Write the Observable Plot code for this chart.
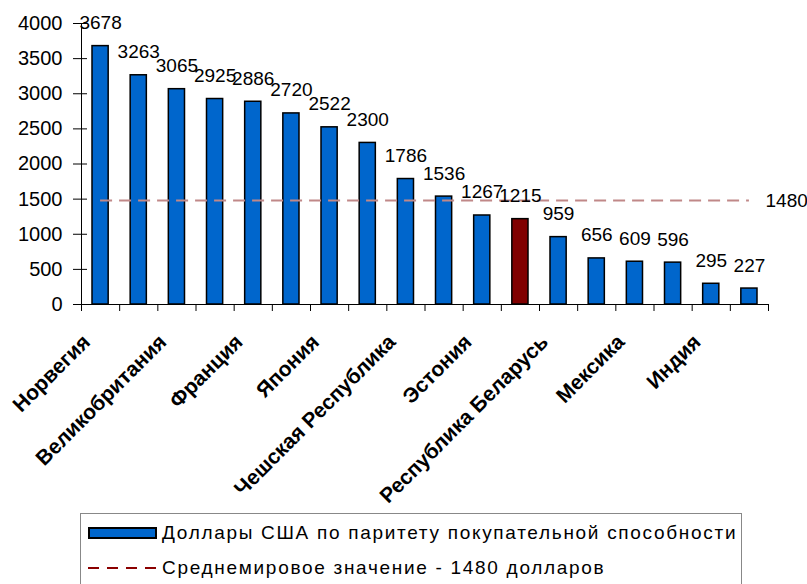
<!DOCTYPE html>
<html>
<head>
<meta charset="utf-8">
<script src="https://cdn.jsdelivr.net/npm/d3@7"></script>
<script src="https://cdn.jsdelivr.net/npm/@observablehq/plot@0.6"></script>
<style>
  body { margin: 0; background: #fff; font-family: "Liberation Sans", Arial, sans-serif; }
  #wrap { position: relative; width: 807px; height: 584px; overflow: hidden; }
  #legend { position: absolute; left: 80px; top: 513px; width: 662px; height: 90px; border: 1px solid #888; box-sizing: border-box; background: #fff; }
  .row { position: absolute; left: 7px; display: flex; align-items: center; font-size: 19px; letter-spacing: 1.7px; color: #000; white-space: nowrap; }
  .sw { width: 69px; height: 12px; box-sizing: border-box; border: 2px solid #000; background: #0066cc; margin-right: 5px; }
  .row svg { margin-right: 5px; display: block; }
</style>
</head>
<body>
<div id="wrap">
  <div id="chart"></div>
  <div id="legend">
    <div class="row" style="top:8px"><div class="sw"></div><span id="l1"></span></div>
    <div class="row" style="top:43px"><svg width="69" height="4"><line x1="0" x2="69" y1="2" y2="2" stroke="#8b0000" stroke-width="2" stroke-dasharray="11,8"/></svg><span id="l2"></span></div>
  </div>
</div>
<script>
const values = [3678, 3263, 3065, 2925, 2886, 2720, 2522, 2300, 1786, 1536, 1267, 1215, 959, 656, 609, 596, 295, 227];
const tickLabels = ["Норвегия", "", "Великобритания", "", "Франция", "", "Япония", "", "Чешская Республика", "", "Эстония", "", "Республика Беларусь", "", "Мексика", "", "Индия", ""];
const highlighted = [11];
const average = 1480;
const yTicks = [0, 500, 1000, 1500, 2000, 2500, 3000, 3500, 4000];
const seriesName = "Доллары США по паритету покупательной способности";
const averageName = "Среднемировое значение - 1480 долларов";

const data = values.map((v, i) => ({i, value: v, hi: highlighted.includes(i)}));
const labels = tickLabels.map((t, i) => ({i, t})).filter(d => d.t);
const n = values.length;

const font = "'Liberation Sans', Arial, sans-serif";
const chart = Plot.plot({
  width: 807,
  height: 513,
  marginLeft: 81,
  marginRight: 39,
  marginTop: 23,
  marginBottom: 209,
  style: {fontFamily: font, color: "#000", background: "#fff"},
  x: {domain: [0, n], axis: null},
  y: {domain: [0, 4000], axis: null},
  marks: [
    Plot.axisY({ticks: yTicks, tickSize: 8, tickPadding: 11, fontSize: 20, tickFormat: d => String(d), stroke: "#000", label: null}),
    Plot.axisY({ticks: yTicks, tickSize: -6, tickFormat: () => "", stroke: "#000", label: null}),
    Plot.axisX({ticks: d3.range(0, n + 1), tickSize: 7, tickFormat: () => "", stroke: "#000", label: null}),
    Plot.ruleX([0], {y1: 0, y2: 4000, stroke: "#000"}),
    Plot.ruleY([0], {x1: 0, x2: n, stroke: "#000"}),
    Plot.rectY(data, {x1: d => d.i, x2: d => d.i + 1, y: "value", insetLeft: 11, insetRight: 11,
      fill: d => d.hi ? "#800000" : "#0066cc", stroke: "#000", strokeWidth: 1.5}),
    Plot.ruleY([average], {x1: 0.5, x2: n - 0.5, stroke: "#c08888", strokeWidth: 2, strokeDasharray: "12,7"}),
    Plot.text([average], {x: n, y: d => d, text: d => String(d), textAnchor: "start", dx: -3, fontSize: 19, fill: "#000"}),
    Plot.text(data, {x: d => d.i + 0.5, y: "value", text: d => String(d.value), textAnchor: "middle", lineAnchor: "bottom", dy: -17, fontSize: 19, fill: "#000"}),
    Plot.text(labels, {x: d => d.i + 0.5, y: 0, text: "t", rotate: -45, textAnchor: "end", dx: -14, dy: 34, fontSize: 21, fontWeight: "bold", fill: "#000"})
  ]
});
document.getElementById("chart").appendChild(chart);
document.getElementById("l1").textContent = seriesName;
document.getElementById("l2").textContent = averageName;
</script>
</body>
</html>
